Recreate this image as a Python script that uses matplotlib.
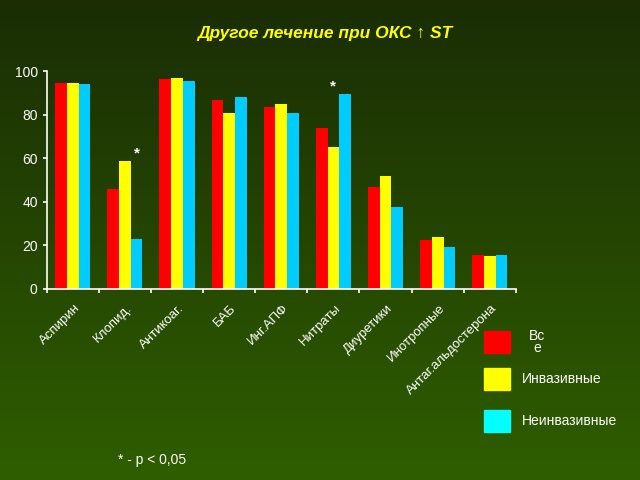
import numpy as np
import matplotlib
matplotlib.use("Agg")
import matplotlib.pyplot as plt
from matplotlib.colors import LinearSegmentedColormap

plt.rcParams['font.family'] = ['Liberation Sans', 'DejaVu Sans']

# data
categories = ['Аспирин', 'Клопид.', 'Антикоаг.', 'БАБ', 'Инг.АПФ',
              'Нитраты', 'Диуретики', 'Инотропные', 'Антаг.альдостерона']
vse = [94.4, 46, 96.2, 86.7, 83.7, 73.9, 46.9, 22.3, 15.4]
invasive = [94.4, 58.9, 96.6, 80.9, 85, 65, 51.8, 23.8, 15.3]
noninvasive = [93.9, 23, 95.4, 88.2, 80.9, 89.5, 37.6, 19.4, 15.4]
series_names = ['Вс\nе', 'Инвазивные', 'Неинвазивные']
star_marks = [(1, 2, 62), (5, 1, 93)]  # (group, bar, y)
yticks = [0, 20, 40, 60, 80, 100]

fig = plt.figure(figsize=(6.4, 4.8), dpi=100)

# background gradient, dark top -> green bottom
bg = fig.add_axes([0, 0, 1, 1], zorder=-10)
cmap = LinearSegmentedColormap.from_list('bg', ['#1a2d05', '#2f5e00'])
bg.imshow(np.linspace(0, 1, 256).reshape(-1, 1), aspect='auto', cmap=cmap,
          extent=[0, 1, 0, 1], origin='upper')
bg.axis('off')

ax = fig.add_axes([0.073, 0.398, 0.733, 0.454])
ax.patch.set_alpha(0)

x = np.arange(len(categories))
w = 0.225
ax.bar(x - w, vse, w, color='#ff0000')
ax.bar(x, invasive, w, color='#ffff00')
ax.bar(x + w, noninvasive, w, color='#00ccff')

for g, b, yv in star_marks:
    ax.text(g + (b - 1) * w, yv, '*', color='white', ha='center', va='center',
            fontsize=11, fontweight='bold')

ax.set_xlim(-0.5, len(categories) - 0.5)
ax.set_ylim(0, 100)
ax.set_yticks(yticks)
ax.tick_params(axis='y', colors='white', labelsize=10, length=3, width=1.2)
ax.set_xticks(np.arange(len(categories) + 1) - 0.5)
ax.set_xticklabels([])
ax.tick_params(axis='x', colors='white', length=3, width=1.2)
for i, c in enumerate(categories):
    ax.text(i + 0.02, -6, c, color='white', fontsize=9.5, rotation=45,
            ha='right', va='top', rotation_mode='anchor',
            transform=ax.transData)

for s in ['top', 'right']:
    ax.spines[s].set_visible(False)
for s in ['left', 'bottom']:
    ax.spines[s].set_color('white')
    ax.spines[s].set_linewidth(1.2)

fig.text(0.508, 0.93, 'Другое лечение при ОКС ↑ ST', color='#ffff00',
         fontsize=12.5, fontweight='bold', fontstyle='italic', ha='center',
         va='center')

# legend built by hand
leg_colors = ['#ff0000', '#ffff00', '#00ffff']
leg_y = [342, 379, 421]
for col, name, yp in zip(leg_colors, series_names, leg_y):
    fig.patches.append(plt.Rectangle((484 / 640, 1 - (yp + 11) / 480),
                                     26 / 640, 22 / 480, color=col,
                                     transform=fig.transFigure, figure=fig))
    if '\n' in name:
        fig.text(537 / 640, 1 - yp / 480, name, color='white', fontsize=10,
                 ha='center', va='center', linespacing=0.9)
    else:
        fig.text(522 / 640, 1 - yp / 480, name, color='white', fontsize=10,
                 ha='left', va='center')

fig.text(118 / 640, 1 - 460 / 480, '* - p < 0,05', color='white',
         fontsize=10, ha='left', va='center')

fig.savefig('out.png', dpi=100)
